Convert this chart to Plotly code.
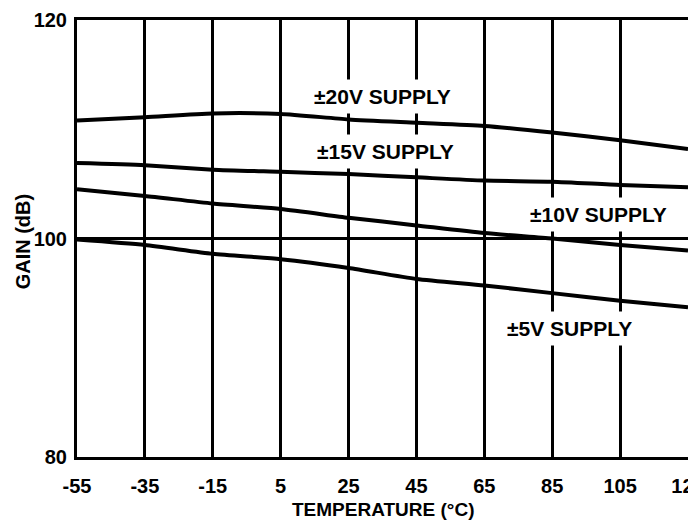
import plotly.graph_objects as go

temperature = [-55, -35, -15, 5, 25, 45, 65, 85, 105, 125]
gain_20v = [110.8, 111.1, 111.45, 111.4, 110.9, 110.6, 110.3, 109.7, 109.0, 108.2]
gain_15v = [106.9, 106.7, 106.3, 106.1, 105.9, 105.6, 105.3, 105.2, 104.9, 104.7]
gain_10v = [104.5, 103.9, 103.2, 102.7, 101.9, 101.2, 100.5, 100.0, 99.4, 98.9]
gain_5v = [99.9, 99.4, 98.6, 98.1, 97.3, 96.3, 95.7, 95.0, 94.3, 93.7]

x_tickvals = [-55, -35, -15, 5, 25, 45, 65, 85, 105, 125]
x_ticktext = ["-55", "-35", "-15", "5", "25", "45", "65", "85", "105", "125"]
y_tickvals = [80, 100, 120]
y_ticktext = ["80", "100", "120"]

series_names = ["±20V SUPPLY", "±15V SUPPLY", "±10V SUPPLY", "±5V SUPPLY"]
label_x = [35, 36, 98.5, 90]
label_y = [113.0, 107.95, 102.2, 91.8]

x_title = "TEMPERATURE (°C)"
y_title = "GAIN (dB)"

FONT = "Liberation Sans"

fig = go.Figure()
for name, ys in zip(series_names, [gain_20v, gain_15v, gain_10v, gain_5v]):
    fig.add_trace(go.Scatter(
        x=temperature, y=ys, mode="lines", name=name,
        line=dict(color="black", width=4, shape="spline", smoothing=0.6),
        showlegend=False,
    ))

for name, lx, ly in zip(series_names, label_x, label_y):
    fig.add_annotation(
        x=lx, y=ly, text=name, showarrow=False,
        font=dict(family=FONT, size=21, color="black", weight="bold"),
        bgcolor="white", borderpad=5,
    )

# axis titles (placed as annotations so they sit exactly where the reference has them)
fig.add_annotation(
    xref="paper", yref="paper", x=0.5, y=-0.119, text=x_title, showarrow=False,
    xanchor="center", yanchor="middle",
    font=dict(family=FONT, size=19, color="black", weight="bold"),
)
fig.add_annotation(
    xref="paper", yref="paper", x=-0.088, y=0.494, text=y_title, showarrow=False,
    xanchor="center", yanchor="middle", textangle=-90,
    font=dict(family=FONT, size=20, color="black", weight="bold"),
)

# the page adds an 8px body margin, so the figure is 8px smaller than the window
fig.update_layout(
    width=688, height=513,
    margin=dict(l=69, r=8, t=12, b=64),
    paper_bgcolor="white", plot_bgcolor="white",
    font=dict(family=FONT, size=20, color="black", weight="bold"),
    showlegend=False,
)
fig.update_xaxes(
    range=[-55, 125], tickvals=x_tickvals, ticktext=x_ticktext,
    showgrid=True, gridcolor="black", gridwidth=3,
    showline=True, linecolor="black", linewidth=3, mirror=True,
    zeroline=False, ticks="", ticklabelstandoff=9, automargin=False,
    ticklabeloverflow="allow",
    tickfont=dict(size=20, weight="bold"),
)
fig.update_yaxes(
    range=[80, 120], tickvals=y_tickvals, ticktext=y_ticktext,
    showgrid=True, gridcolor="black", gridwidth=3,
    showline=True, linecolor="black", linewidth=3, mirror=True,
    zeroline=False, ticks="", ticklabelstandoff=3, automargin=False,
    tickfont=dict(size=20, weight="bold"),
)

fig.write_html("out.html")
